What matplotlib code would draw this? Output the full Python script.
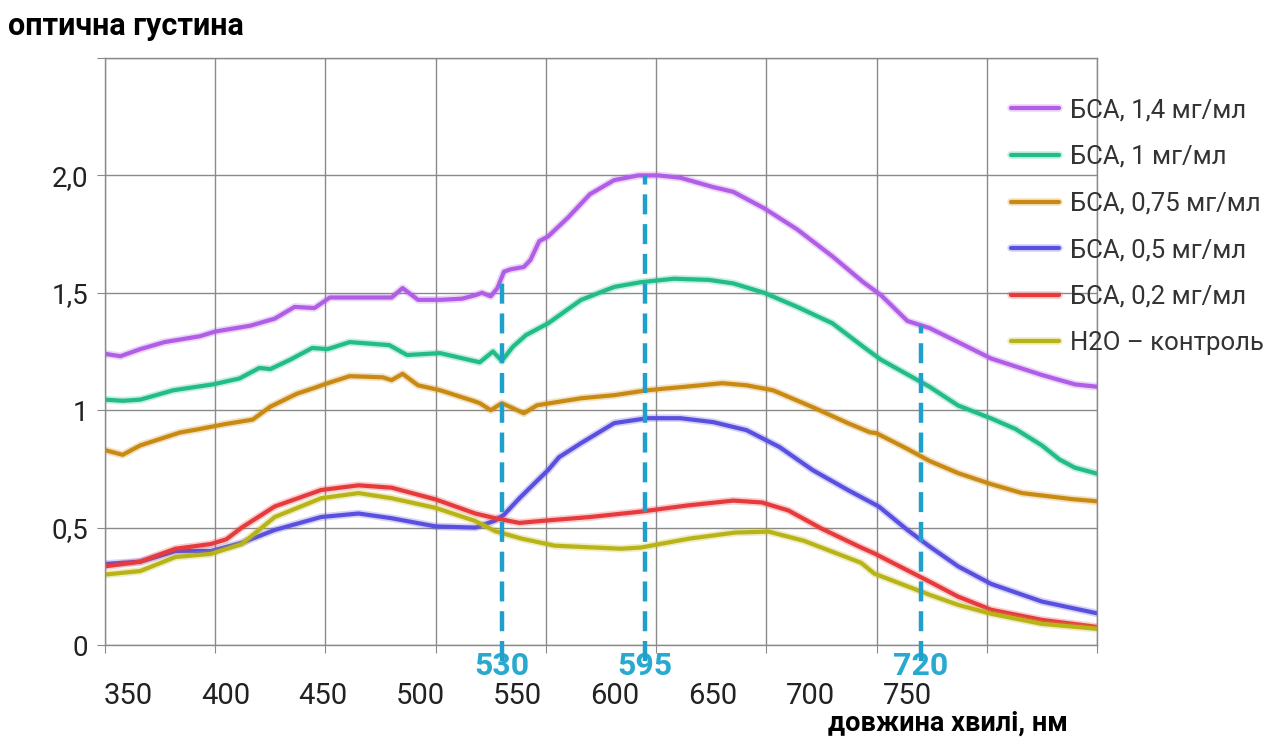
import numpy as np
import matplotlib
matplotlib.use('Agg')
import matplotlib.pyplot as plt
import matplotlib.patheffects as pe

plt.rcParams['font.family'] = ['Roboto', 'DejaVu Sans']

# БСА, 1,4 мг/мл
wl_14 = [350, 357, 366, 377, 393, 400, 416, 427, 436, 445, 452, 470, 480, 485, 492, 502, 512, 518, 521, 525,
         528, 531, 534, 540, 543, 547, 551, 560, 570, 581, 592, 601, 611, 626, 635, 649, 664, 680, 694, 702,
         714, 724, 737, 752, 775, 790, 800]
od_14 = [1.24, 1.23, 1.26, 1.29, 1.315, 1.335, 1.36, 1.39, 1.44, 1.435, 1.48, 1.48, 1.48, 1.52, 1.47, 1.47, 1.475, 1.49, 1.50, 1.485,
         1.52, 1.59, 1.60, 1.61, 1.64, 1.72, 1.74, 1.82, 1.92, 1.98, 2.0, 2.0, 1.99, 1.95, 1.93, 1.86, 1.77, 1.655, 1.545, 1.49,
         1.38, 1.35, 1.29, 1.22, 1.15, 1.11, 1.10]

# БСА, 1 мг/мл
wl_10 = [350, 358, 366, 381, 399, 411, 420, 425, 434, 444, 451, 461, 479, 487, 502, 520, 526, 530, 535, 541,
         551, 566, 581, 593, 608, 624, 635, 649, 664, 680, 694, 702, 724, 737, 752, 763, 775, 783, 790, 800]
od_10 = [1.045, 1.04, 1.045, 1.085, 1.11, 1.135, 1.18, 1.175, 1.215, 1.265, 1.26, 1.29, 1.277, 1.235, 1.243, 1.204, 1.25, 1.21, 1.27, 1.32,
         1.37, 1.47, 1.525, 1.545, 1.56, 1.555, 1.54, 1.50, 1.44, 1.37, 1.27, 1.215, 1.10, 1.02, 0.965, 0.92, 0.85, 0.79, 0.755, 0.73]

# БСА, 0,75 мг/мл
wl_075 = [350, 358, 366, 384, 393, 404, 417, 425, 437, 445, 451, 461, 476, 480, 485, 492, 502, 517, 520, 525,
          530, 534, 540, 546, 566, 581, 596, 611, 630, 641, 653, 671, 687, 697, 700, 714, 724, 737, 752, 766,
          789, 800]
od_075 = [0.83, 0.81, 0.85, 0.905, 0.92, 0.94, 0.96, 1.015, 1.07, 1.095, 1.115, 1.145, 1.14, 1.128, 1.155, 1.106, 1.085, 1.04, 1.03, 1.0,
          1.03, 1.013, 0.987, 1.021, 1.051, 1.064, 1.085, 1.098, 1.115, 1.106, 1.085, 1.013, 0.945, 0.906, 0.902, 0.835, 0.784, 0.732, 0.685, 0.647,
          0.621, 0.612]

# БСА, 0,5 мг/мл
wl_05 = [350, 366, 382, 398, 412, 427, 448, 465, 480, 500, 518, 527, 531, 538, 545, 551, 556, 566, 581, 596,
         611, 626, 641, 656, 671, 687, 701, 714, 724, 737, 752, 775, 800]
od_05 = [0.345, 0.355, 0.40, 0.40, 0.435, 0.49, 0.545, 0.56, 0.54, 0.505, 0.50, 0.53, 0.555, 0.625, 0.69, 0.745, 0.80, 0.86, 0.945, 0.966,
         0.966, 0.949, 0.915, 0.843, 0.745, 0.66, 0.59, 0.49, 0.42, 0.335, 0.26, 0.185, 0.135]

# БСА, 0,2 мг/мл
wl_02 = [350, 366, 382, 398, 405, 412, 427, 448, 465, 480, 500, 518, 527, 538, 550, 570, 593, 614, 635, 648,
         660, 675, 693, 699, 724, 737, 752, 775, 800]
od_02 = [0.335, 0.355, 0.41, 0.43, 0.45, 0.50, 0.59, 0.66, 0.68, 0.67, 0.62, 0.56, 0.54, 0.52, 0.53, 0.545, 0.568, 0.594, 0.615, 0.607,
         0.573, 0.496, 0.415, 0.39, 0.27, 0.206, 0.15, 0.107, 0.077]

# H2O - контроль
wl_h2o = [350, 366, 382, 398, 412, 427, 448, 465, 480, 500, 518, 527, 539, 554, 584, 593, 615, 636, 651, 667,
          693, 699, 724, 737, 752, 775, 800]
od_h2o = [0.30, 0.315, 0.375, 0.388, 0.43, 0.545, 0.625, 0.647, 0.625, 0.584, 0.528, 0.485, 0.453, 0.423, 0.41, 0.415, 0.453, 0.479, 0.483, 0.444,
          0.35, 0.304, 0.214, 0.171, 0.133, 0.09, 0.069]

labels = ['БСА, 1,4 мг/мл', 'БСА, 1 мг/мл', 'БСА, 0,75 мг/мл', 'БСА, 0,5 мг/мл', 'БСА, 0,2 мг/мл', 'H2O – контроль']
colors = ['#b05ee6', '#22bb8a', '#c98a14', '#5a50e0', '#e63a3c', '#b8b418']

x_ticks = [350, 400, 450, 500, 550, 600, 650, 700, 750]
y_ticks = [0, 0.5, 1, 1.5, 2.0, 2.5]
y_ticklabels = ['0', '0,5', '1', '1,5', '2,0', '']
marks = [530, 595, 720]

fig = plt.figure(figsize=(12.65, 7.44), dpi=100)
ax = fig.add_axes([105/1265, 1-645/744, 992/1265, 587/744])

series = [(wl_14, od_14), (wl_10, od_10), (wl_075, od_075), (wl_05, od_05), (wl_02, od_02), (wl_h2o, od_h2o)]
for (x, y), lab, c in zip(series, labels, colors):
    ax.plot(x, y, color=c, lw=3, label=lab, solid_capstyle='round',
            path_effects=[pe.Stroke(linewidth=5.5, foreground=c, alpha=0.25), pe.Normal()])

for m in marks:
    top = np.interp(m, wl_14, od_14)
    ax.plot([m, m], [-0.07, top], color='#1f9fcc', lw=3.2, dashes=(4.5, 2.2), clip_on=False, zorder=5)
    ax.text(m, -0.09, str(m), color='#27a9d0', fontsize=23, weight='bold', ha='center', va='center')

ax.set_xlim(350, 800)
ax.set_ylim(0, 2.5)
ax.set_xticks(np.arange(350, 801, 50))
ax.set_xticklabels([])
ax.set_yticks(y_ticks)
ax.set_yticklabels(y_ticklabels, fontsize=20, color='#222222')
ax.grid(color='#8a8a8a', lw=1)
ax.tick_params(axis='both', which='major', length=6, color='#8a8a8a', pad=6)

# labels of the x axis sit a bit left of the grid lines in the original
label_pos = 360.4 + (np.array(x_ticks) - 350) * 0.884
ax.set_xticks(label_pos, minor=True)
ax.set_xticklabels([str(v) for v in x_ticks], minor=True, fontsize=21, color='#222222')
ax.tick_params(axis='x', which='minor', length=0, pad=27)

for s in ax.spines.values():
    s.set_color('#8a8a8a')
    s.set_linewidth(1)

fig.text(8/1265, 1-26/744, 'оптична густина', fontsize=22, weight='bold', va='center')
fig.text(1068/1265, 1-723/744, 'довжина хвилі, нм', fontsize=19.5, weight='bold', ha='right', va='center')

ax.legend(loc='upper left', bbox_to_anchor=(1001/1265, 1-88/744), bbox_transform=fig.transFigure,
          frameon=False, fontsize=18.5, handlelength=1.85, handletextpad=0.45, labelspacing=0.88, borderaxespad=0,
          labelcolor='#333333')

fig.savefig('out.png', dpi=100)
